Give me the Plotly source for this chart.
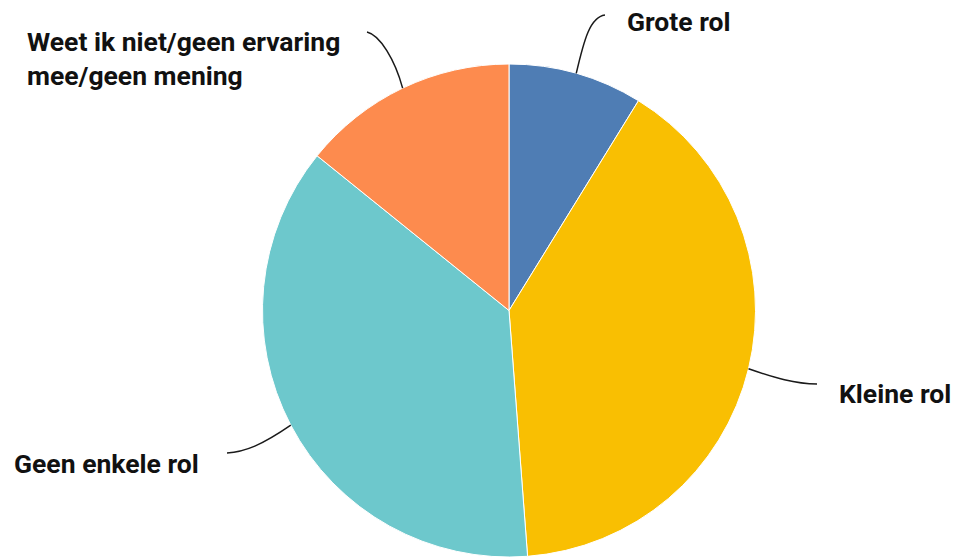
import math
import plotly.graph_objects as go

labels = ["Grote rol", "Kleine rol", "Geen enkele rol", "Weet ik niet/geen ervaring<br>mee/geen mening"]
values = [8.8, 40.0, 37.0, 14.2]
colors = ["#4f7db4", "#f9bf02", "#6dc8cc", "#fd8b4e"]

W, H = 955, 557
TOP = 64  # screen y of plot-area top
PH = H - TOP  # plot-area height
CX, CY, R = 509, 310.5, 246.5  # screen coordinates

def px(x):
    return x / W

def py(y):
    return 1 - (y - TOP) / PH

fig = go.Figure(go.Pie(
    labels=labels, values=values, sort=False, direction="clockwise", rotation=0,
    marker=dict(colors=colors, line=dict(color="white", width=1)),
    textinfo="none", hoverinfo="label+percent",
    domain=dict(x=[px(CX - 247), px(CX + 247)], y=[0, 1]),
))

# anchor points at mid-angle of each slice (computed from data)
total = sum(values)
anchors = []
acc = 0
for v in values:
    mid = (acc + v / 2) / total * 2 * math.pi
    anchors.append((CX + R * math.sin(mid), CY - R * math.cos(mid)))
    acc += v

# leader line ends / control points and label placement (layout, screen px)
ends = [(605, 15), (817, 384), (227, 453), (367, 32)]
ctrl = [[(584, 40), (590, 17)], [(775, 378), (795, 384)], [(262, 445), (245, 452)], [(395, 60), (380, 35)]]
label_pos = [(625, 22), (837, 393), (12, 463), (25, 58)]

shapes = []
annotations = []
for (ax, ay), (ex, ey), (c1, c2), (lx, ly), lab in zip(anchors, ends, ctrl, label_pos, labels):
    path = "M {:.4f},{:.4f} C {:.4f},{:.4f} {:.4f},{:.4f} {:.4f},{:.4f}".format(
        px(ax), py(ay), px(c1[0]), py(c1[1]), px(c2[0]), py(c2[1]), px(ex), py(ey))
    shapes.append(dict(type="path", xref="paper", yref="paper", path=path,
                       line=dict(color="#1a1a1a", width=1.5)))
    annotations.append(dict(x=px(lx), y=py(ly), xref="paper", yref="paper",
                            text="<b>" + lab + "</b>", showarrow=False,
                            xanchor="left", yanchor="middle", align="left",
                            font=dict(family="Roboto", size=26.5, color="#111111")))

fig.update_layout(
    width=W, height=H, margin=dict(l=0, r=0, t=TOP, b=0),
    paper_bgcolor="white", plot_bgcolor="white", showlegend=False,
    shapes=shapes, annotations=annotations,
)

fig.write_html("out.html", config={"displayModeBar": False},
               post_script="document.body.style.margin='0';document.body.style.overflow='hidden';")
